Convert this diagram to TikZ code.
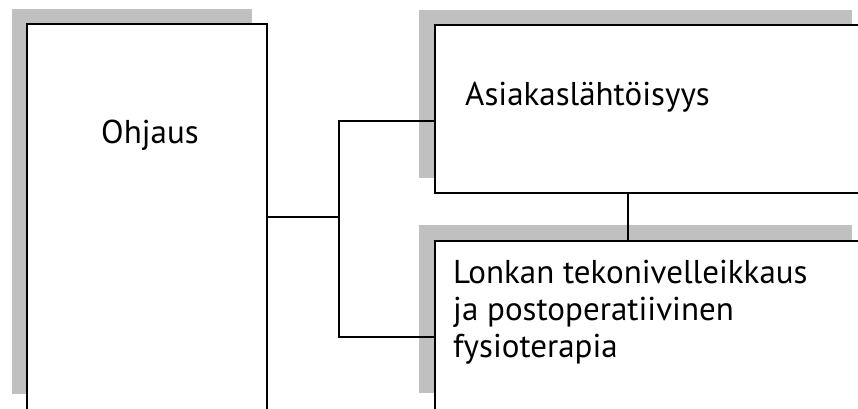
\documentclass[tikz,border=0pt]{standalone}
\usepackage{fontspec}
\setmainfont{PT Sans}
\definecolor{shadowgray}{HTML}{C0C0C0}
\tikzset{
  boxshape/.style={draw=black, fill=white, line width=1.8pt, rectangle, inner sep=0pt, outer sep=0pt, anchor=north west},
  shadowshape/.style={fill=shadowgray, draw=none, rectangle, inner sep=0pt, outer sep=0pt, anchor=north west},
  lbl/.style={anchor=base west, inner sep=0pt, font=\fontsize{33}{37}\selectfont, align=left},
  conn/.style={draw=black, line width=1.8pt}
}
\begin{document}
\begin{tikzpicture}[x=1pt,y=-1pt]
\useasboundingbox (0,0) rectangle (858,408);
\clip (0,0) rectangle (858,408);
\fill[white] (0,0) rectangle (858,408);
% shadows
\node[shadowshape, minimum width=240pt, minimum height=385pt] (s1) at (12,9) {};
\node[shadowshape, minimum width=433pt, minimum height=168pt] (s2) at (419,10) {};
\node[shadowshape, minimum width=433pt, minimum height=168pt] (s3) at (419,225) {};
% boxes
\node[boxshape, minimum width=240pt, minimum height=400pt] (ohj) at (27,24) {};
\node[boxshape, minimum width=440pt, minimum height=168pt] (asia) at (435,25) {};
\node[boxshape, minimum width=440pt, minimum height=200pt] (lonk) at (435,241) {};
% texts
\node[lbl] (tohj) at (101,143) {Ohjaus};
\node[lbl] (tasia) at (465,105) {Asiakaslähtöisyys};
\node[lbl] (tlonk) at (453,357) {Lonkan tekonivelleikkaus\\ja postoperatiivinen\\fysioterapia};
% connectors
\coordinate (j) at (339,217);
\coordinate (jt) at (339,121);
\coordinate (jb) at (339,337);
\coordinate (v) at (628,200);
\draw[conn] (ohj.east |- j) -- (j);
\draw[conn] (jt -| asia.west) -- (jt) -- (jb) -- (jb -| lonk.west);
\draw[conn] (v |- asia.south) -- (v |- lonk.north);
\end{tikzpicture}
\end{document}
